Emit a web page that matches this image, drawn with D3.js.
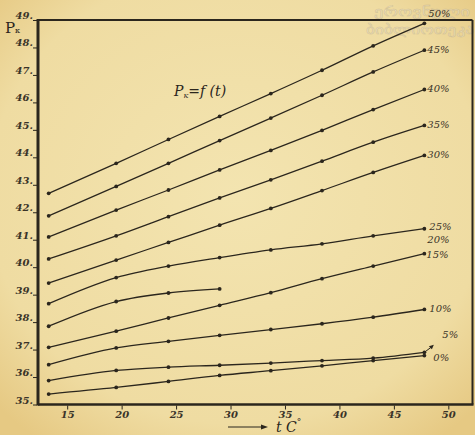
<!DOCTYPE html>
<html>
<head>
<meta charset="utf-8">
<script src="https://cdn.jsdelivr.net/npm/d3@7"></script>
<style>
  html, body { margin: 0; padding: 0; background: #ebd294; }
  svg { display: block; }
  .tick-label { font-family: "DejaVu Serif", serif; font-style: italic; font-weight: bold; font-size: 10px; fill: #3a3328; }
  .series-label { font-family: "DejaVu Serif", serif; font-style: italic; font-size: 10px; fill: #3a3328; }
</style>
</head>
<body>
<div id="chart"></div>
<script>
// temperatures of the measured points, t C
const temps = [13.3, 19.5, 24.3, 29.0, 33.7, 38.4, 43.1, 47.8];

// series names (concentration)
const seriesNames = ['50%', '45%', '40%', '35%', '30%', '25%', '20%', '15%', '10%', '5%', '0%'];

// P values, one array per curve
const p50 = [42.69, 43.78, 44.65, 45.49, 46.32, 47.17, 48.06, 48.88];
const p45 = [41.87, 42.94, 43.78, 44.61, 45.43, 46.26, 47.11, 47.90];
const p40 = [41.10, 42.08, 42.81, 43.54, 44.25, 44.98, 45.74, 46.47];
const p35 = [40.30, 41.14, 41.84, 42.52, 43.18, 43.86, 44.55, 45.16];
const p30 = [39.42, 40.26, 40.90, 41.53, 42.14, 42.79, 43.45, 44.07];
const p25 = [38.67, 39.62, 40.04, 40.35, 40.63, 40.85, 41.14, 41.40];
const p20 = [37.85, 38.75, 39.06, 39.21];
const p15 = [37.08, 37.67, 38.15, 38.61, 39.07, 39.58, 40.04, 40.49];
const p10 = [36.45, 37.06, 37.30, 37.52, 37.73, 37.94, 38.18, 38.46];
const p05 = [35.87, 36.24, 36.36, 36.43, 36.51, 36.60, 36.69, 36.90];
const p00 = [35.38, 35.62, 35.84, 36.06, 36.23, 36.41, 36.60, 36.78];

const seriesValues = [p50, p45, p40, p35, p30, p25, p20, p15, p10, p05, p00];

// axis ticks
const yTicks = [35, 36, 37, 38, 39, 40, 41, 42, 43, 44, 45, 46, 47, 48, 49];
const xTicks = [15, 20, 25, 30, 35, 40, 45, 50];

const W = 475, H = 435;
const ink = '#2b261d';

const svg = d3.select('#chart').append('svg')
  .attr('width', W).attr('height', H);

// paper
const grad = svg.append('defs').append('radialGradient')
  .attr('id', 'paper').attr('cx', '50%').attr('cy', '45%').attr('r', '70%');
grad.append('stop').attr('offset', '0%').attr('stop-color', '#f3e4b0');
grad.append('stop').attr('offset', '75%').attr('stop-color', '#efdca2');
grad.append('stop').attr('offset', '100%').attr('stop-color', '#e6c983');
svg.append('rect').attr('width', W).attr('height', H).attr('fill', 'url(#paper)');

const x = d3.scaleLinear().domain([12.32, 52.22]).range([38, 472.5]);
const y = d3.scaleLinear().domain([35, 49]).range([404.5, 20]);

// watermark
const wm = svg.append('g')
  .attr('font-family', 'DejaVu Sans, sans-serif')
  .attr('font-size', 13)
  .attr('fill', '#f4ead0')
  .attr('stroke', '#bfb18e')
  .attr('stroke-width', 0.5)
  .attr('opacity', 0.6);
wm.append('text').attr('x', 374).attr('y', 16).attr('textLength', 96)
  .attr('lengthAdjust', 'spacingAndGlyphs').text('ეროვნული');
wm.append('text').attr('x', 366).attr('y', 34).attr('textLength', 108)
  .attr('lengthAdjust', 'spacingAndGlyphs').text('ბიბლიოთეკა');

// frame
svg.append('line').attr('x1', x.range()[0]).attr('x2', x.range()[1])
  .attr('y1', y(49)).attr('y2', y(49)).attr('stroke', ink).attr('stroke-width', 2);
svg.append('line').attr('x1', x.range()[1]).attr('x2', x.range()[1])
  .attr('y1', y(49)).attr('y2', y(35)).attr('stroke', ink).attr('stroke-width', 2);
svg.append('line').attr('x1', x.range()[0]).attr('x2', x.range()[1] + 1)
  .attr('y1', y(35)).attr('y2', y(35)).attr('stroke', ink).attr('stroke-width', 2.6);
svg.append('line').attr('x1', x.range()[0]).attr('x2', x.range()[0])
  .attr('y1', y(49) - 1).attr('y2', y(35) + 1).attr('stroke', ink).attr('stroke-width', 3);

// y axis
const yAxis = svg.append('g')
  .attr('transform', 'translate(' + (x.range()[0] - 1) + ',0)')
  .call(d3.axisLeft(y).tickValues(yTicks).tickSize(4).tickFormat(d => d + '.'));
yAxis.select('.domain').remove();
yAxis.selectAll('.tick line').attr('stroke', ink).attr('stroke-width', 1);
yAxis.selectAll('.tick text').attr('class', 'tick-label')
  .attr('x', -4).attr('dy', '-0.15em');

// x axis
const xAxis = svg.append('g')
  .attr('transform', 'translate(0,' + (y(35) + 1) + ')')
  .call(d3.axisBottom(x).tickValues(xTicks).tickSize(4).tickFormat(d3.format('d')));
xAxis.select('.domain').remove();
xAxis.selectAll('.tick line').attr('stroke', ink).attr('stroke-width', 1);
xAxis.selectAll('.tick text').attr('class', 'tick-label').attr('y', 5);

// curves
const line = d3.line()
  .x((d, i) => x(temps[i]))
  .y(d => y(d))
  .curve(d3.curveMonotoneX);

const curves = svg.append('g');
seriesValues.forEach((vals, k) => {
  curves.append('path')
    .datum(vals)
    .attr('d', line)
    .attr('fill', 'none')
    .attr('stroke', ink)
    .attr('stroke-width', 1.3);
  curves.selectAll(null)
    .data(vals)
    .enter().append('circle')
    .attr('cx', (d, i) => x(temps[i]))
    .attr('cy', d => y(d))
    .attr('r', 1.9)
    .attr('fill', ink);
});

// series labels, nudged from the end of each curve
const labelNudge = [
  [4, -6], [3, 3], [3, 3], [3, 3], [3, 3], [5, 1], [0, 2], [2, 4], [5, 3], [18, -14], [9, 5]
];
seriesNames.forEach((name, k) => {
  let vals = seriesValues[k];
  let px = x(temps[temps.length - 1]);
  let py = vals.length === temps.length ? y(vals[vals.length - 1]) : y(p15[p15.length - 1]) - 13;
  if (vals.length !== temps.length) px += 3;
  svg.append('text')
    .attr('class', 'series-label')
    .attr('x', px + labelNudge[k][0])
    .attr('y', py + labelNudge[k][1])
    .text(name);
});

// small arrow from the 5% curve to its label
const a0 = [x(temps[7]), y(p05[7])];
svg.append('line')
  .attr('x1', a0[0]).attr('y1', a0[1])
  .attr('x2', a0[0] + 8).attr('y2', a0[1] - 6)
  .attr('stroke', ink).attr('stroke-width', 1);
svg.append('path')
  .attr('d', 'M' + (a0[0] + 9.5) + ',' + (a0[1] - 7.5) + 'l-5,1.5l3,3z')
  .attr('fill', ink);

// axis titles
const yTitle = svg.append('text')
  .attr('x', 5).attr('y', 33)
  .attr('font-family', 'DejaVu Serif, serif')
  .attr('font-size', 15)
  .attr('fill', ink);
yTitle.append('tspan').text('P');
yTitle.append('tspan').attr('font-size', 8).attr('dy', 0).text('к');

const title = svg.append('text')
  .attr('x', 174).attr('y', 96)
  .attr('font-family', 'DejaVu Serif, serif')
  .attr('font-style', 'italic')
  .attr('font-size', 14)
  .attr('fill', ink);
title.append('tspan').text('P');
title.append('tspan').attr('font-size', 8).attr('dy', 2).text('к');
title.append('tspan').attr('dy', -2).text('=f (t)');

svg.append('line')
  .attr('x1', 228).attr('x2', 264).attr('y1', 427).attr('y2', 427)
  .attr('stroke', ink).attr('stroke-width', 1);
svg.append('path').attr('d', 'M268,427l-7,-2.5l0,5z').attr('fill', ink);
const xTitle = svg.append('text')
  .attr('x', 276).attr('y', 432)
  .attr('font-family', 'DejaVu Serif, serif')
  .attr('font-style', 'italic')
  .attr('font-size', 14)
  .attr('fill', ink);
xTitle.append('tspan').text('t C');
xTitle.append('tspan').attr('font-size', 9).attr('dy', -7).text('°');
</script>
</body>
</html>
